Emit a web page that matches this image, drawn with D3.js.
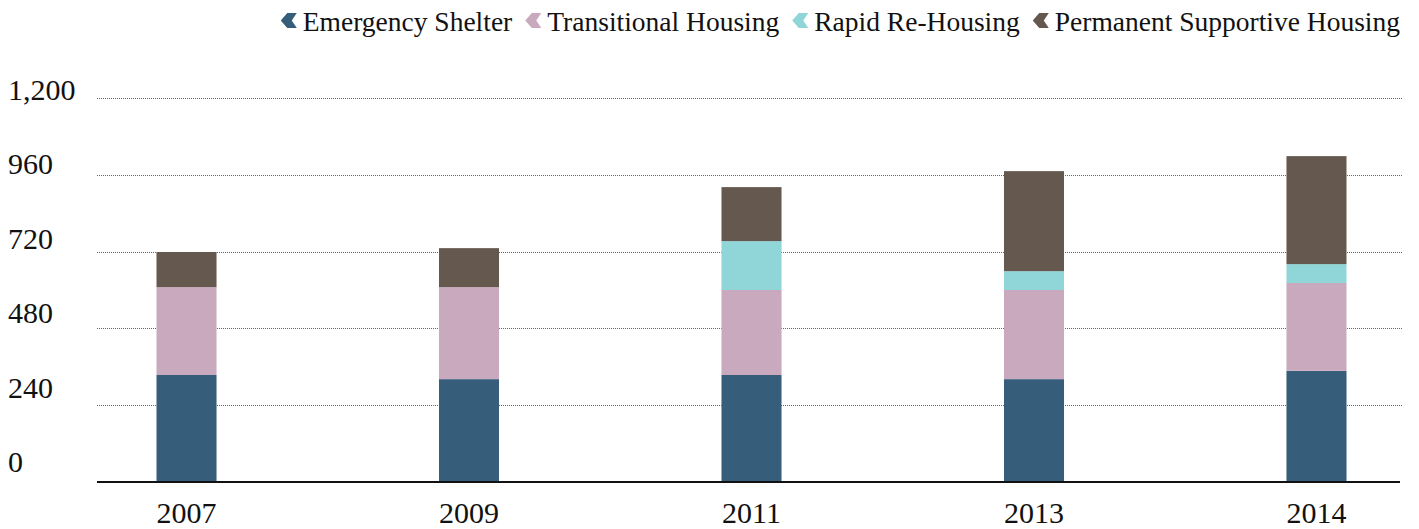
<!DOCTYPE html>
<html>
<head>
<meta charset="utf-8">
<script src="https://cdn.jsdelivr.net/npm/d3@7"></script>
</head>
<body style="margin:0;padding:0;background:#fff">
<svg id="chart" width="1419" height="529" style="display:block"></svg>
<script>
// ---- data ----
const years = ["2007", "2009", "2011", "2013", "2014"];
const seriesNames = ["Emergency Shelter", "Transitional Housing", "Rapid Re-Housing", "Permanent Supportive Housing"];
const emergencyShelter    = [334, 321, 334, 321, 347];
const transitionalHousing = [275, 288, 266, 279, 275];
const rapidReHousing      = [0,   0,   153, 59,  59];
const permanentSupportive = [110, 122, 169, 313, 338];
const yTicks = [0, 240, 480, 720, 960, 1200];
const colors = ["#365d7a", "#c9a9bd", "#90d5d8", "#64584f"];

const FONT = '"Liberation Serif", "Tinos"';

const rows = years.map((y, i) => ({
  year: y,
  "Emergency Shelter": emergencyShelter[i],
  "Transitional Housing": transitionalHousing[i],
  "Rapid Re-Housing": rapidReHousing[i],
  "Permanent Supportive Housing": permanentSupportive[i]
}));

const svg = d3.select("#chart");
const x0 = 97, x1 = 1402;

const x = d3.scaleBand().domain(years).range([100, 1403]).paddingInner(0.7875).paddingOuter(0.2);
const y = d3.scaleLinear().domain([0, 1200]).range([481.7, 98.3]);
const yLabel = d3.scaleLinear().domain([0, 1200]).range([472, 100]);
const color = d3.scaleOrdinal().domain(seriesNames).range(colors);

// gridlines
svg.append("g").selectAll("line").data(yTicks.filter(d => d > 0)).join("line")
  .attr("x1", x0).attr("x2", x1)
  .attr("y1", d => Math.round(y(d)) + 0.5).attr("y2", d => Math.round(y(d)) + 0.5)
  .attr("stroke", "#666").attr("stroke-width", 1).attr("stroke-dasharray", "1,1");

// y labels
svg.append("g").selectAll("text").data(yTicks).join("text")
  .attr("x", 8).attr("y", d => yLabel(d))
  .attr("font-family", FONT).attr("font-size", 30).attr("fill", "#111")
  .text(d => d3.format(",")(d));

// stacked bars
const stack = d3.stack().keys(seriesNames)(rows);
svg.append("g").selectAll("g").data(stack).join("g")
  .attr("fill", d => color(d.key))
  .selectAll("rect").data(d => d).join("rect")
  .attr("x", d => x(d.data.year))
  .attr("width", x.bandwidth())
  .attr("y", d => y(d[1]))
  .attr("height", d => y(d[0]) - y(d[1]));

// baseline
svg.append("line").attr("x1", x0).attr("x2", 1400)
  .attr("y1", 482).attr("y2", 482)
  .attr("stroke", "#111").attr("stroke-width", 2.2);

// x labels
svg.append("g").selectAll("text").data(years).join("text")
  .attr("x", d => x(d) + x.bandwidth() / 2).attr("y", 523)
  .attr("text-anchor", "middle")
  .attr("font-family", FONT).attr("font-size", 30).attr("fill", "#111")
  .text(d => d);

// legend (right aligned at 1400)
const legend = svg.append("g");
const items = legend.selectAll("g").data(seriesNames).join("g");
items.append("path")
  .attr("d", "M6.5,0 L16,0 L11,7.5 L16,15 L6.5,15 L0,7.5 Z")
  .attr("fill", d => color(d));
const textOffset = 22;
items.append("text").attr("x", textOffset).attr("y", 18)
  .attr("font-family", FONT).attr("font-size", 27.5).attr("fill", "#111")
  .text(d => d);
let widths = [];
items.each(function() { widths.push(this.querySelector("text").getComputedTextLength() + textOffset); });
const gap = 13;
let total = d3.sum(widths) + gap * (widths.length - 1);
let cx = 1400 - total;
items.attr("transform", (d, i) => {
  const t = `translate(${cx},13)`;
  cx += widths[i] + gap;
  return t;
});
</script>
</body>
</html>
